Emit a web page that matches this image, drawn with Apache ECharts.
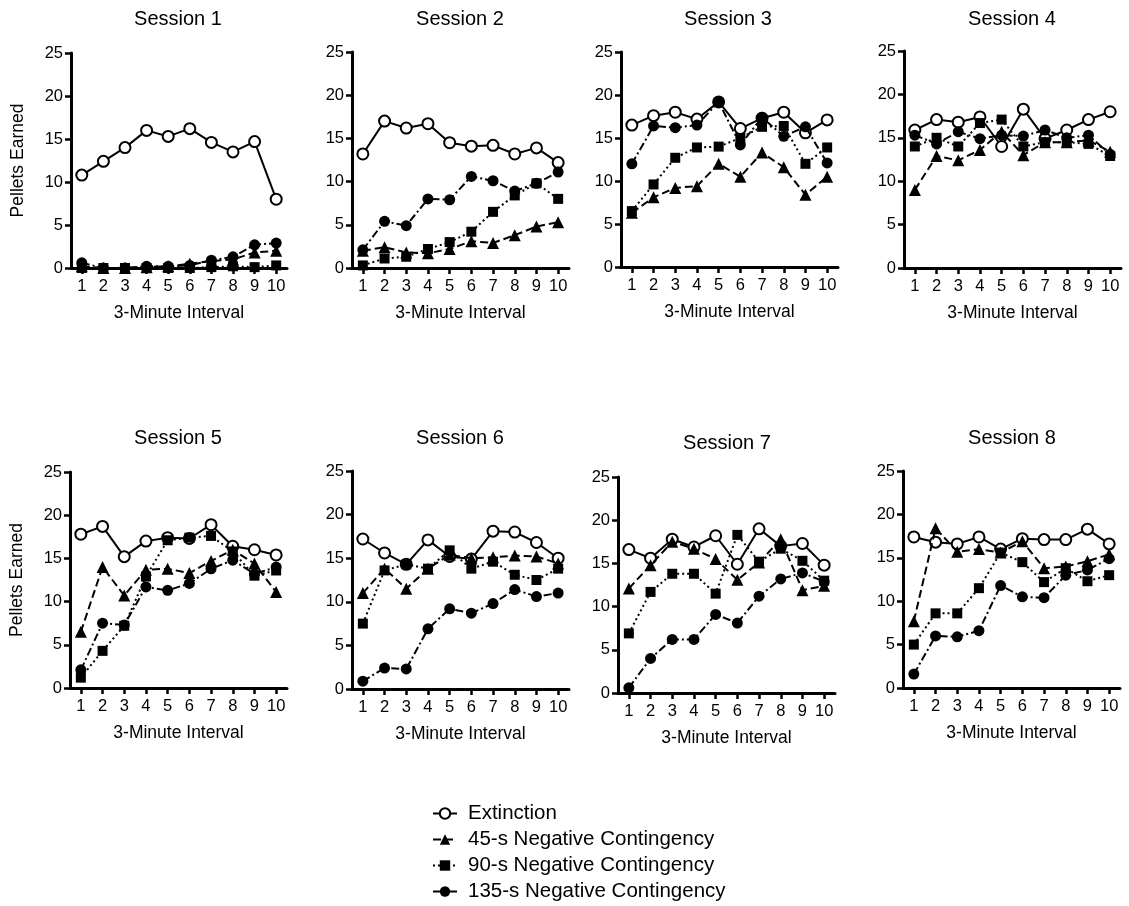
<!DOCTYPE html>
<html>
<head>
<meta charset="utf-8">
<script src="https://cdn.jsdelivr.net/npm/echarts@6/dist/echarts.min.js"></script>
<style>
  html, body { margin: 0; padding: 0; background: #fff; }
  #chart { width: 1129px; height: 906px; }
</style>
</head>
<body>
<div id="chart"></div>
<script>
// ---------- DATA ----------
const categories = ['1', '2', '3', '4', '5', '6', '7', '8', '9', '10'];
const sessionTitles = ['Session 1', 'Session 2', 'Session 3', 'Session 4',
                       'Session 5', 'Session 6', 'Session 7', 'Session 8'];
const seriesNames = ['Extinction', '45-s Negative Contingency',
                     '90-s Negative Contingency', '135-s Negative Contingency'];
const yTicks = [0, 5, 10, 15, 20, 25];

// one list per session (Session 1..8), values per 3-minute interval 1..10
const extinction = [
  [10.8, 12.4, 14.0, 16.0, 15.3, 16.2, 14.6, 13.5, 14.7, 8.0],
  [13.2, 17.0, 16.2, 16.7, 14.5, 14.1, 14.2, 13.2, 13.9, 12.2],
  [16.5, 17.6, 18.0, 17.2, 19.2, 16.1, 17.3, 18.0, 15.6, 17.1],
  [15.9, 17.1, 16.8, 17.4, 14.0, 18.3, 14.9, 15.9, 17.1, 18.0],
  [17.8, 18.7, 15.2, 17.0, 17.4, 17.3, 18.9, 16.4, 16.0, 15.4],
  [17.2, 15.6, 14.3, 17.1, 15.2, 14.9, 18.1, 18.0, 16.8, 15.0],
  [16.6, 15.6, 17.8, 16.9, 18.2, 14.9, 19.0, 17.0, 17.3, 14.8],
  [17.4, 16.8, 16.6, 17.4, 16.0, 17.2, 17.1, 17.1, 18.3, 16.6]
];
const neg45 = [
  [0.2, 0.0, 0.0, 0.1, 0.2, 0.5, 0.8, 1.0, 1.8, 2.0],
  [2.0, 2.4, 1.8, 1.7, 2.2, 3.1, 2.9, 3.8, 4.8, 5.3],
  [6.3, 8.1, 9.2, 9.4, 12.0, 10.5, 13.3, 11.6, 8.4, 10.5],
  [9.0, 12.9, 12.4, 13.6, 15.7, 13.0, 14.5, 14.5, 14.7, 13.4],
  [6.5, 14.0, 10.7, 13.7, 13.8, 13.3, 14.7, 16.0, 14.4, 11.1],
  [11.0, 13.8, 11.5, 13.8, 15.4, 15.0, 15.1, 15.3, 15.2, 14.4],
  [12.1, 14.8, 17.5, 16.7, 15.5, 13.1, 15.1, 17.8, 11.9, 12.4],
  [7.7, 18.4, 15.7, 16.0, 15.6, 16.9, 13.8, 14.0, 14.6, 15.4]
];
const neg90 = [
  [0.0, 0.0, 0.0, 0.0, 0.0, 0.0, 0.1, 0.2, 0.1, 0.3],
  [0.3, 1.1, 1.3, 2.2, 3.0, 4.2, 6.5, 8.4, 9.8, 8.0],
  [6.5, 9.6, 12.7, 13.9, 14.0, 15.0, 16.3, 16.4, 12.0, 13.9],
  [14.0, 15.0, 14.0, 16.7, 17.1, 14.0, 14.5, 14.5, 14.3, 12.9],
  [1.2, 4.3, 7.2, 12.9, 17.1, 17.4, 17.6, 15.8, 13.0, 13.6],
  [7.5, 13.6, 14.3, 13.8, 15.9, 13.8, 14.6, 13.1, 12.5, 13.8],
  [6.9, 11.7, 13.8, 13.8, 11.5, 18.3, 15.2, 16.7, 15.3, 13.0],
  [5.0, 8.6, 8.6, 11.5, 15.6, 14.5, 12.2, 13.8, 12.3, 13.0]
];
const neg135 = [
  [0.6, 0.0, 0.0, 0.2, 0.2, 0.3, 0.9, 1.3, 2.7, 2.9],
  [2.1, 5.4, 4.9, 8.0, 7.9, 10.6, 10.1, 8.9, 9.8, 11.1],
  [12.0, 16.4, 16.2, 16.5, 19.2, 14.2, 17.4, 15.2, 16.3, 12.1],
  [15.3, 14.3, 15.7, 14.9, 15.3, 15.2, 15.9, 15.0, 15.3, 13.1],
  [2.1, 7.5, 7.3, 11.7, 11.3, 12.1, 13.8, 14.8, 13.2, 14.0],
  [0.9, 2.4, 2.3, 6.9, 9.2, 8.7, 9.8, 11.4, 10.6, 11.0],
  [0.6, 4.0, 6.2, 6.2, 9.1, 8.1, 11.2, 13.2, 13.9, 12.9],
  [1.6, 6.0, 5.9, 6.6, 11.8, 10.5, 10.4, 13.0, 13.6, 14.9]
];
const seriesData = [extinction, neg45, neg90, neg135];

// ---------- LAYOUT (pixels) ----------
const panels = [
  { left: 71,  top: 53,  width: 216, height: 215, titleX: 178,  titleY: 9 },
  { left: 352, top: 52,  width: 217, height: 216, titleX: 460,  titleY: 9 },
  { left: 621, top: 52,  width: 217, height: 215, titleX: 728,  titleY: 9 },
  { left: 904, top: 51,  width: 217, height: 217, titleX: 1012, titleY: 9 },
  { left: 70,  top: 472, width: 217, height: 216, titleX: 178,  titleY: 428 },
  { left: 352, top: 471, width: 217, height: 218, titleX: 460,  titleY: 428 },
  { left: 618, top: 477, width: 217, height: 216, titleX: 727,  titleY: 433 },
  { left: 903, top: 471, width: 217, height: 217, titleX: 1012, titleY: 428 }
];

// ---------- STYLES ----------
const FONT = 'Liberation Sans, Arial, sans-serif';
const styles = [
  { symbol: 'circle',   size: 11, line: 'solid',        fill: '#fff', border: 2 },
  { symbol: 'triangle', size: 12, line: [8, 4],         fill: '#000', border: 0 },
  { symbol: 'rect',     size: 10, line: [2, 3],         fill: '#000', border: 0 },
  { symbol: 'circle',   size: 11, line: [8, 3, 2, 3],   fill: '#000', border: 0 }
];

const grids = [], xAxes = [], yAxes = [], titles = [], series = [];
panels.forEach((p, i) => {
  grids.push({ left: p.left, top: p.top, width: p.width, height: p.height, containLabel: false });
  titles.push({
    text: sessionTitles[i], left: p.titleX, top: p.titleY, textAlign: 'center', padding: 0,
    textStyle: { fontFamily: FONT, fontSize: 20, fontWeight: 'normal', color: '#000' }
  });
  xAxes.push({
    type: 'category', gridIndex: i, data: categories, boundaryGap: true,
    name: '3-Minute Interval', nameLocation: 'middle', nameGap: 36,
    nameTextStyle: { fontFamily: FONT, fontSize: 17.5, color: '#000' },
    axisLine: { show: true, lineStyle: { color: '#000', width: 3 } },
    axisTick: { show: true, alignWithLabel: true, length: 6, lineStyle: { color: '#000', width: 2.5 } },
    axisLabel: { fontFamily: FONT, fontSize: 16.5, color: '#000', margin: 10, interval: 0 },
    splitLine: { show: false }
  });
  yAxes.push({
    type: 'value', gridIndex: i, min: yTicks[0], max: yTicks[yTicks.length - 1], interval: 5,
    name: (i % 4 === 0) ? 'Pellets Earned' : '', nameLocation: 'middle', nameGap: 44, nameRotate: 90,
    nameTextStyle: { fontFamily: FONT, fontSize: 17.5, color: '#000' },
    axisLine: { show: true, lineStyle: { color: '#000', width: 3 } },
    axisTick: { show: true, length: 6, lineStyle: { color: '#000', width: 2.5 } },
    axisLabel: { fontFamily: FONT, fontSize: 16.5, color: '#000', margin: 8 },
    splitLine: { show: false }
  });
  seriesData.forEach((arr, k) => {
    const st = styles[k];
    series.push({
      name: seriesNames[k], type: 'line', xAxisIndex: i, yAxisIndex: i,
      data: arr[i], symbol: st.symbol, symbolSize: st.size, showSymbol: true,
      lineStyle: { color: '#000', width: 2, type: st.line },
      itemStyle: { color: st.fill, borderColor: '#000', borderWidth: st.border },
      z: 2 + k, animation: false, silent: true
    });
  });
});

const chart = echarts.init(document.getElementById('chart'), null, { renderer: 'canvas' });
chart.setOption({
  backgroundColor: '#fff',
  animation: false,
  title: titles,
  grid: grids,
  xAxis: xAxes,
  yAxis: yAxes,
  legend: {
    data: seriesNames, orient: 'vertical', left: 432, top: 803, height: 110, padding: 0,
    itemWidth: 24, itemHeight: 13, itemGap: 5, selectedMode: false,
    textStyle: { fontFamily: FONT, fontSize: 20.5, color: '#000', padding: [0, 0, 0, 6] }
  },
  series: series
});
</script>
</body>
</html>
